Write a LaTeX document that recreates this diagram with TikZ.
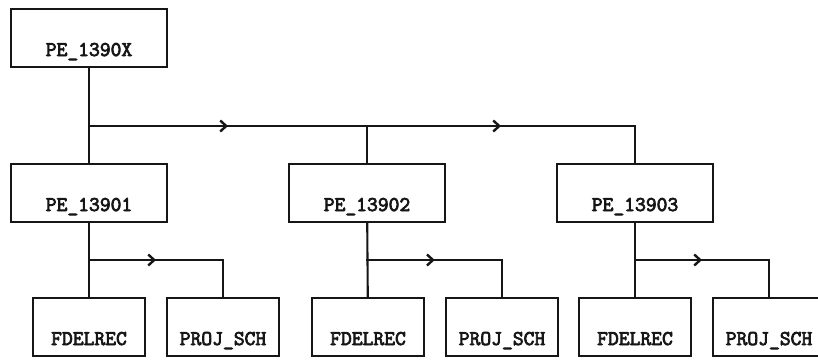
\documentclass[tikz,border=0pt]{standalone}
\usepackage{fontspec}
\newfontfamily\dotfont[FakeBold=3.5]{Latin Modern Mono}
\usetikzlibrary{calc,arrows.meta,decorations.markings}
\definecolor{inkblk}{RGB}{22,22,22}

\tikzset{
  pebox/.style={draw=inkblk,line width=2.1pt,minimum width=156pt,inner sep=0pt,
    text height=47pt,text depth=11pt,text=inkblk,
    font=\dotfont\fontsize{21}{21}\selectfont},
  subbox/.style={pebox,minimum width=112pt},
  link/.style={draw=inkblk,line width=2.1pt,line cap=rect},
  flow/.style={link,postaction={decorate},
    decoration={markings,mark=at position 0.5 with
      {\arrow[line width=2.4pt]{Straight Barb[length=6pt,width=11pt]}}}}
}

\begin{document}
\begin{tikzpicture}[x=1pt,y=-1pt]

    \useasboundingbox (0,0) rectangle (818,359);

    % 顶层模块

    \node[pebox] (top) at (89,38) {PE\_1390X};

    % 第二层模块

    \node[pebox] (pe1) at (89,193) {PE\_13901};
    \node[pebox] (pe2) at (367,193) {PE\_13902};
    \node[pebox] (pe3) at (635,193) {PE\_13903};

    % 底层模块

    \foreach \i/\x in {1/89,2/368,3/635}{
      \node[subbox] (fd\i) at (\x,327) {FDELREC};
      \node[subbox] (pj\i) at (\x+134,327) {PROJ\_SCH};
    }

    % 顶层分支连线

    \coordinate (hub) at (top.south |- 0,126);
    \coordinate (drop2) at (hub -| pe2);
    \coordinate (drop3) at (hub -| pe3);
    \draw[link] (top) -- (pe1);
    \draw[flow] (hub) -- (drop2);
    \draw[flow] (drop2) -- (drop3);
    \draw[link] (drop2) -- (pe2);
    \draw[link] (drop3) -- (pe3);

    % 底层分支连线

    \foreach \i in {1,2,3}{
      \coordinate (fork\i) at ($(pe\i.south)!0.5!(fd\i.north)$);
      \coordinate (drop\i b) at (fork\i -| pj\i);
      \draw[link] (pe\i) -- (fd\i);
      \draw[flow] (fork\i) -- (drop\i b);
      \draw[link] (drop\i b) -- (pj\i);
    }

  \end{tikzpicture}
\end{document}
